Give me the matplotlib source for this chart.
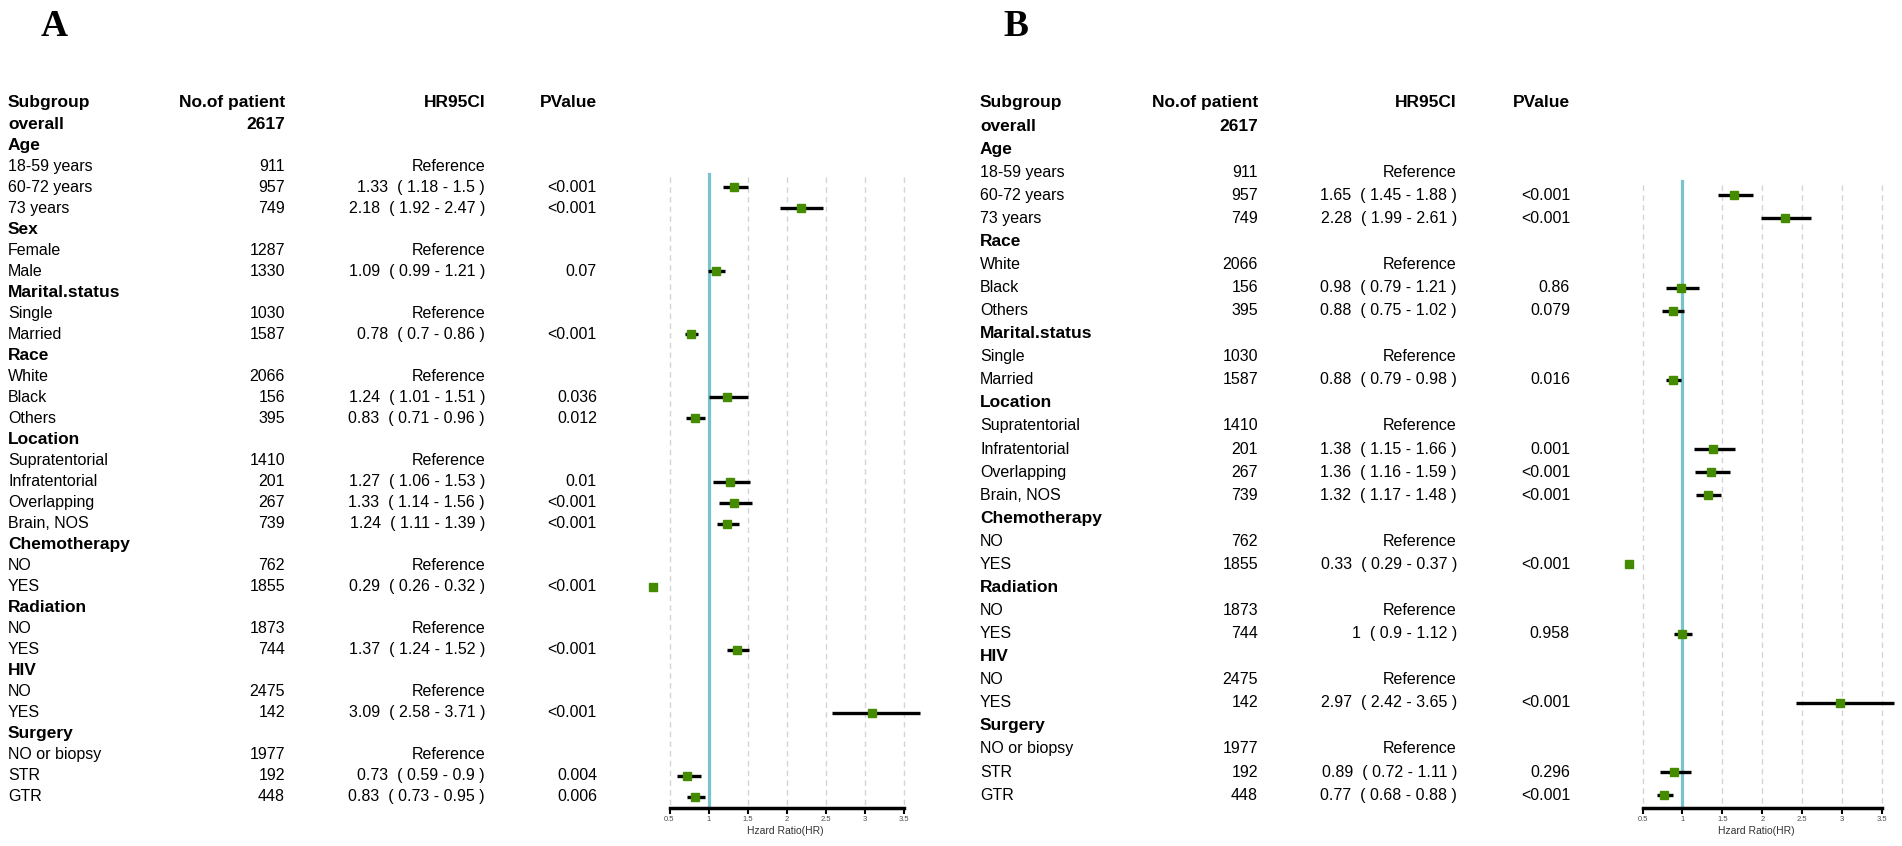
import matplotlib.pyplot as plt
import matplotlib.transforms as mtransforms

plt.rcParams['font.family'] = ['Liberation Sans', 'DejaVu Sans']

W, H = 1902, 846

# ---- Panel A ----
rows_a = ['Age', '18-59 years', '60-72 years', '73 years',
          'Sex', 'Female', 'Male',
          'Marital.status', 'Single', 'Married',
          'Race', 'White', 'Black', 'Others',
          'Location', 'Supratentorial', 'Infratentorial', 'Overlapping', 'Brain, NOS',
          'Chemotherapy', 'NO', 'YES',
          'Radiation', 'NO', 'YES',
          'HIV', 'NO', 'YES',
          'Surgery', 'NO or biopsy', 'STR', 'GTR']
n_a = [None, 911, 957, 749, None, 1287, 1330, None, 1030, 1587,
       None, 2066, 156, 395, None, 1410, 201, 267, 739, None, 762, 1855,
       None, 1873, 744, None, 2475, 142, None, 1977, 192, 448]
hr_a = [None, None, 1.33, 2.18, None, None, 1.09, None, None, 0.78,
        None, None, 1.24, 0.83, None, None, 1.27, 1.33, 1.24, None, None, 0.29,
        None, None, 1.37, None, None, 3.09, None, None, 0.73, 0.83]
lo_a = [None, None, 1.18, 1.92, None, None, 0.99, None, None, 0.7,
        None, None, 1.01, 0.71, None, None, 1.06, 1.14, 1.11, None, None, 0.26,
        None, None, 1.24, None, None, 2.58, None, None, 0.59, 0.73]
hi_a = [None, None, 1.5, 2.47, None, None, 1.21, None, None, 0.86,
        None, None, 1.51, 0.96, None, None, 1.53, 1.56, 1.39, None, None, 0.32,
        None, None, 1.52, None, None, 3.71, None, None, 0.9, 0.95]
p_a = ['', '', '<0.001', '<0.001', '', '', '0.07', '', '', '<0.001',
       '', '', '0.036', '0.012', '', '', '0.01', '<0.001', '<0.001', '', '', '<0.001',
       '', '', '<0.001', '', '', '<0.001', '', '', '0.004', '0.006']

# ---- Panel B ----
rows_b = ['Age', '18-59 years', '60-72 years', '73 years',
          'Race', 'White', 'Black', 'Others',
          'Marital.status', 'Single', 'Married',
          'Location', 'Supratentorial', 'Infratentorial', 'Overlapping', 'Brain, NOS',
          'Chemotherapy', 'NO', 'YES',
          'Radiation', 'NO', 'YES',
          'HIV', 'NO', 'YES',
          'Surgery', 'NO or biopsy', 'STR', 'GTR']
n_b = [None, 911, 957, 749, None, 2066, 156, 395, None, 1030, 1587,
       None, 1410, 201, 267, 739, None, 762, 1855, None, 1873, 744,
       None, 2475, 142, None, 1977, 192, 448]
hr_b = [None, None, 1.65, 2.28, None, None, 0.98, 0.88, None, None, 0.88,
        None, None, 1.38, 1.36, 1.32, None, None, 0.33, None, None, 1.0,
        None, None, 2.97, None, None, 0.89, 0.77]
lo_b = [None, None, 1.45, 1.99, None, None, 0.79, 0.75, None, None, 0.79,
        None, None, 1.15, 1.16, 1.17, None, None, 0.29, None, None, 0.9,
        None, None, 2.42, None, None, 0.72, 0.68]
hi_b = [None, None, 1.88, 2.61, None, None, 1.21, 1.02, None, None, 0.98,
        None, None, 1.66, 1.59, 1.48, None, None, 0.37, None, None, 1.12,
        None, None, 3.65, None, None, 1.11, 0.88]
p_b = ['', '', '<0.001', '<0.001', '', '', '0.86', '0.079', '', '', '0.016',
       '', '', '0.001', '<0.001', '<0.001', '', '', '<0.001', '', '', '0.958',
       '', '', '<0.001', '', '', '0.296', '<0.001']

total_n = 2617
ticks = [0.5, 1, 1.5, 2, 2.5, 3, 3.5]

fig = plt.figure(figsize=(W / 100, H / 100), dpi=100)

BOX = '#458B00'
CYAN = '#78C3CD'
HEAD = 12.5
BODY = 11.5


def draw_panel(letter, rows, n, hr, lo, hi, p, lay):
    y0, step = lay['y0'], lay['step']
    axis_y, top_y = 808, 95
    ax = fig.add_axes([lay['ax_l'] / W, 1 - axis_y / H,
                       (lay['ax_r'] - lay['ax_l']) / W, (axis_y - top_y) / H])
    ax.set_facecolor('none')
    ppu = (lay['x35'] - lay['x05']) / 3
    ax.set_xlim(0.5 - (lay['x05'] - lay['ax_l']) / ppu,
                3.5 + (lay['ax_r'] - lay['x35']) / ppu)
    ax.set_ylim((axis_y - y0) / step, (top_y - y0) / step)
    tr = mtransforms.blended_transform_factory(fig.transFigure, ax.transData)
    c0, c1, c2, c3 = [c / W for c in lay['cols']]

    # header + overall
    for x, s, ha in [(c0, 'Subgroup', 'left'), (c1, 'No.of patient', 'right'),
                     (c2, 'HR95CI', 'right'), (c3, 'PValue', 'right')]:
        ax.text(x, 0, s, transform=tr, ha=ha, va='center', fontsize=HEAD,
                fontweight='bold', clip_on=False)
    ax.text(c0, 1, 'overall', transform=tr, ha='left', va='center',
            fontsize=HEAD, fontweight='bold', clip_on=False)
    ax.text(c1, 1, str(total_n), transform=tr, ha='right', va='center',
            fontsize=HEAD, fontweight='bold', clip_on=False)

    first = None
    for i, lab in enumerate(rows):
        r = i + 2
        if n[i] is None:
            ax.text(c0, r, lab, transform=tr, ha='left', va='center',
                    fontsize=HEAD, fontweight='bold', clip_on=False)
            continue
        ax.text(c0, r, lab, transform=tr, ha='left', va='center', fontsize=BODY, clip_on=False)
        ax.text(c1, r, str(n[i]), transform=tr, ha='right', va='center', fontsize=BODY, clip_on=False)
        if hr[i] is None:
            ax.text(c2, r, 'Reference', transform=tr, ha='right', va='center',
                    fontsize=BODY, clip_on=False)
            continue
        s = '{:g}  ( {:g} - {:g} )'.format(hr[i], lo[i], hi[i])
        ax.text(c2, r, s, transform=tr, ha='right', va='center', fontsize=BODY, clip_on=False)
        ax.text(c3, r, p[i], transform=tr, ha='right', va='center', fontsize=BODY, clip_on=False)
        if first is None:
            first = r
        ax.plot([lo[i], hi[i]], [r, r], color='black', lw=2.4,
                solid_capstyle='butt', zorder=3, clip_on=False)
        ax.plot(hr[i], r, marker='s', color=BOX, ms=6, mec=BOX, zorder=4, clip_on=False)

    ybot = ax.get_ylim()[0]
    for t in ticks:
        if t == 1:
            continue
        ax.plot([t, t], [first - 0.46, ybot], color='#D5D5D5', lw=1,
                ls=(0, (4, 3)), zorder=1)
    ax.plot([1, 1], [first - 0.62, ybot], color=CYAN, lw=2.3, zorder=2)

    for side in ['left', 'top', 'right']:
        ax.spines[side].set_visible(False)
    ax.spines['bottom'].set_bounds(0.5, 3.5)
    ax.spines['bottom'].set_linewidth(2.5)
    ax.set_yticks([])
    ax.set_xticks(ticks)
    ax.set_xticklabels(['{:g}'.format(t) for t in ticks])
    ax.tick_params(axis='x', length=4, width=1.5, pad=2, labelsize=5.5,
                   labelcolor='#4D4D4D')
    ax.set_xlabel('Hzard Ratio(HR)', fontsize=7.5, labelpad=2, color='#333333')

    fig.text(lay['letter_x'] / W, 1 - 36 / H, letter, ha='center', va='baseline',
             fontsize=27, fontweight='bold', family='Liberation Serif')


lay_a = dict(y0=103, step=21.03, ax_l=640, ax_r=930, x05=669.5, x35=903.5,
             cols=[8, 285, 485, 597], letter_x=54)
lay_b = dict(y0=103, step=23.07, ax_l=1610, ax_r=1902, x05=1642.5, x35=1882,
             cols=[980, 1258, 1457, 1570], letter_x=1016)

draw_panel('A', rows_a, n_a, hr_a, lo_a, hi_a, p_a, lay_a)
draw_panel('B', rows_b, n_b, hr_b, lo_b, hi_b, p_b, lay_b)

plt.savefig('out.png', dpi=100)
